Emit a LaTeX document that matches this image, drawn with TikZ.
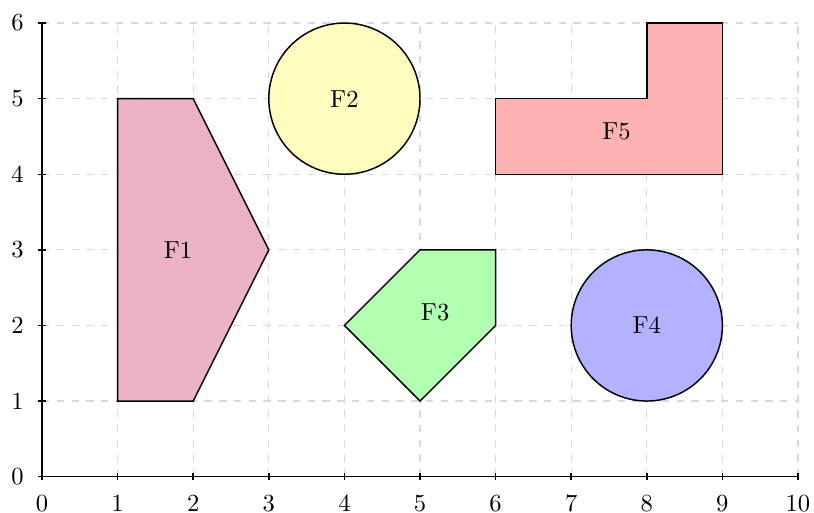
\documentclass[tikz,border=0pt]{standalone}
\begin{document}
\begin{tikzpicture}[x=1.08cm,y=1.08cm,
  gridline/.style={gray!30,dashed,line width=0.5pt},
  axisline/.style={black,line width=0.6pt},
  shapeline/.style={draw=black,line width=0.6pt},
  lbl/.style={inner sep=1pt}]
\useasboundingbox (-0.556,-0.477) rectangle (10.212,6.305);
% grid
\foreach \i in {1,...,10} \draw[gridline] (\i,0) -- (\i,6);
\foreach \j in {1,...,6} \draw[gridline] (0,\j) -- (10,\j);
% shapes
\draw[shapeline,fill=purple!30] (1,1) -- (2,1) -- (3,3) -- (2,5) -- (1,5) -- cycle;
\draw[shapeline,fill=yellow!25] (4,5) circle (1);
\draw[shapeline,fill=green!30] (4,2) -- (5,3) -- (6,3) -- (6,2) -- (5,1) -- cycle;
\draw[shapeline,fill=blue!30] (8,2) circle (1);
\draw[shapeline,fill=red!30] (6,4) -- (9,4) -- (9,6) -- (8,6) -- (8,5) -- (6,5) -- cycle;
% labels
\node[lbl] (f1) at (1.8,3) {F1};
\node[lbl] (f2) at (4,5) {F2};
\node[lbl] (f3) at (5.2,2.17) {F3};
\node[lbl] (f4) at (8,2) {F4};
\node[lbl] (f5) at (7.6,4.57) {F5};
% axes
\draw[axisline] (0,0) -- (10,0);
\draw[axisline] (0,0) -- (0,6);
\foreach \i in {0,...,10} {
  \draw[axisline] (\i,-0.05) -- (\i,0.05);
  \node[anchor=north,inner sep=2pt] (xl\i) at (\i,-0.17) {\i};
}
\foreach \j in {0,...,6} {
  \draw[axisline] (-0.05,\j) -- (0.05,\j);
  \node[anchor=east,inner sep=2pt] (yl\j) at (-0.17,\j) {\j};
}
\end{tikzpicture}
\end{document}
